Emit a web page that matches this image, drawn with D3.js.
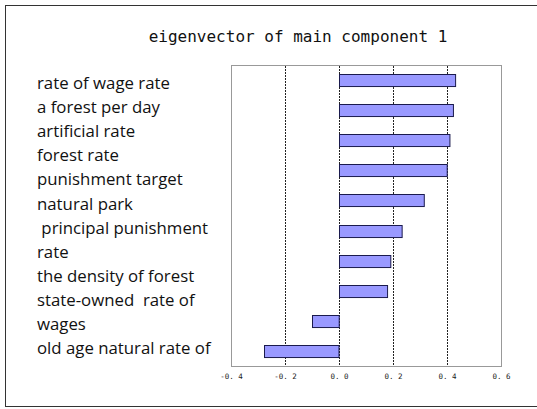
<!DOCTYPE html>
<html>
<head>
<meta charset="utf-8">
<script src="https://cdn.jsdelivr.net/npm/d3@7"></script>
<style>
  body { margin: 0; background: #fff; }
</style>
</head>
<body>
<div id="canvas"></div>
<script>
// chart data
const categories = ["rate of wage rate", "a forest per day", "artificial rate", "forest rate",
  "punishment target", "natural park", "principal punishment rate", "the density of forest",
  "state-owned rate of wages", "old age natural rate of"];
const values = [0.43, 0.422, 0.409, 0.399, 0.314, 0.232, 0.19, 0.178, -0.099, -0.276];
// label text as it is laid out (wrapped lines, not aligned with bars)
const labelLines = ["rate of wage rate", "a forest per day", "artificial rate", "forest rate",
  "punishment target", "natural park", "\u00a0principal punishment", "rate",
  "the density of forest", "state-owned  rate of", "wages", "old age natural rate of"];
const tickValues = [-0.4, -0.2, 0, 0.2, 0.4, 0.6];
const tickLabels = ["-0. 4", "-0. 2", "0. 0", "0. 2", "0. 4", "0. 6"];
const title = "eigenvector of main component 1";

const width = 537, height = 409;
const svg = d3.select('#canvas')
  .append('svg')
    .attr('width', width)
    .attr('height', height);

// outer frame
svg.append('rect')
  .attr('x', 5.5).attr('y', 5.5)
  .attr('width', 540).attr('height', 401)
  .attr('fill', 'none')
  .attr('stroke', '#333')
  .attr('stroke-width', 1);

svg.append('text')
  .attr('x', 298)
  .attr('y', 42)
  .attr('text-anchor', 'middle')
  .attr('font-family', 'DejaVu Sans Mono, monospace')
  .attr('font-size', 16)
  .attr('fill', '#111')
  .text(title);

const plot = { left: 231, right: 501, top: 65, bottom: 366 };

const x = d3.scaleLinear()
  .domain([-0.4, 0.6])
  .range([plot.left, plot.right]);
const y = d3.scaleBand()
  .domain(categories)
  .range([plot.top, plot.bottom])
  .paddingInner(0.6)
  .paddingOuter(0.3);

// plot area
svg.append('rect')
  .attr('x', plot.left + 0.5).attr('y', plot.top + 0.5)
  .attr('width', plot.right - plot.left).attr('height', plot.bottom - plot.top)
  .attr('fill', '#fff')
  .attr('stroke', '#999');

// gridlines
svg.append('g')
  .selectAll('line')
  .data(tickValues.slice(1, -1))
  .join('line')
    .attr('x1', d => Math.round(x(d)) + 0.5)
    .attr('x2', d => Math.round(x(d)) + 0.5)
    .attr('y1', plot.top + 1)
    .attr('y2', plot.bottom)
    .attr('stroke', '#222')
    .attr('stroke-dasharray', '2,1')
    .attr('stroke-width', 1);

// bars
svg.append('g')
  .selectAll('rect')
  .data(values)
  .join('rect')
    .attr('x', d => Math.round(x(Math.min(0, d))) + 0.5)
    .attr('y', (d, i) => Math.round(y(categories[i])) + 0.5)
    .attr('width', d => Math.abs(x(d) - x(0)))
    .attr('height', y.bandwidth())
    .attr('fill', '#9999ff')
    .attr('stroke', '#1a1a4d')
    .attr('stroke-width', 1);

// x axis tick labels
const xAxis = d3.axisBottom(x)
  .tickValues(tickValues)
  .tickSize(0)
  .tickPadding(8)
  .tickFormat((d, i) => tickLabels[i]);
svg.append('g')
  .attr('transform', `translate(0,${plot.bottom})`)
  .call(xAxis)
  .call(g => g.select('.domain').remove())
  .call(g => g.selectAll('text')
    .attr('font-family', 'DejaVu Sans Mono, monospace')
    .attr('font-size', 7.5)
    .attr('fill', '#222'));

// category label lines
svg.append('g')
  .selectAll('text')
  .data(labelLines)
  .join('text')
    .attr('x', 37)
    .attr('y', (d, i) => 89 + i * 24.1)
    .attr('font-family', 'Open Sans, sans-serif')
    .attr('font-size', 16.8)
    .attr('fill', '#111')
    .style('white-space', 'pre')
    .text(d => d);
</script>
</body>
</html>
